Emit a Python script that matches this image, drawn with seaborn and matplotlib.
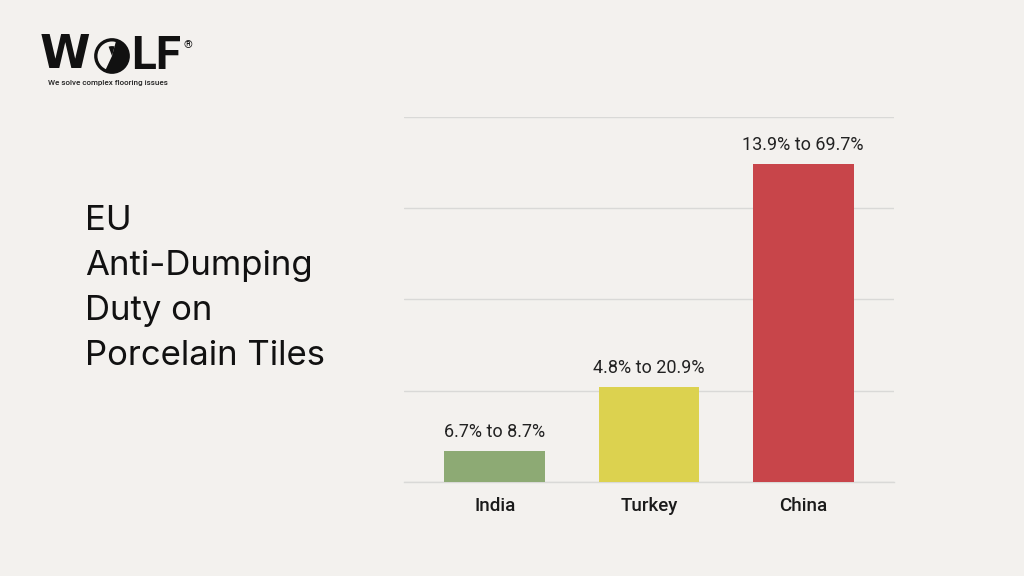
import matplotlib
matplotlib.use("Agg")
import matplotlib.pyplot as plt
import seaborn as sns
import pandas as pd
from matplotlib.patches import Circle, Wedge

# ==========================================
# DATA
# ==========================================
countries = ["India", "Turkey", "China"]
duty_low = [6.7, 4.8, 13.9]
duty_high = [8.7, 20.9, 69.7]
bar_height = [6.7, 20.9, 69.7]   # height of the drawn bars
bar_colors = ["#8daa74", "#dcd24f", "#c8454a"]
y_ticks = [0, 20, 40, 60, 80]

title_lines = ["EU", "Anti-Dumping", "Duty on", "Porcelain Tiles"]

BG = "#f3f1ee"
W, H = 1024, 576

df = pd.DataFrame({"country": countries, "height": bar_height})
labels = [f"{lo}% to {hi}%" for lo, hi in zip(duty_low, duty_high)]

sns.set_theme(style="white")
plt.rcParams["font.family"] = ["Roboto", "DejaVu Sans"]

fig = plt.figure(figsize=(W / 100, H / 100), dpi=100, facecolor=BG)

# axes placed to match the reference pixel box
ax = fig.add_axes([404 / W, 1 - 481.7 / H, (894 - 404) / W, (481.7 - 117.3) / H])
ax.set_facecolor("none")

sns.barplot(data=df, x="country", y="height", hue="country",
            palette=bar_colors, legend=False, width=0.655,
            saturation=1, linewidth=0, ax=ax)

for cont, lab in zip(ax.containers, labels):
    ax.bar_label(cont, labels=[lab], padding=7, fontsize=13, color="#222222")

ax.set_ylim(0, 80)
ax.set_xlim(-0.59, 2.59)
ax.set_yticks(y_ticks)
ax.set_yticklabels([])
ax.yaxis.grid(True, color="#d9d9d7", linewidth=1)
ax.set_axisbelow(True)
ax.tick_params(axis="y", length=0)
ax.tick_params(axis="x", length=0, pad=11, labelsize=13.5, labelcolor="#1a1a1a")
for t in ax.get_xticklabels():
    t.set_fontweight("medium")
ax.set_xlabel("")
ax.set_ylabel("")
for s in ax.spines.values():
    s.set_visible(False)
ax.spines["bottom"].set_visible(True)
ax.spines["bottom"].set_color("#d9d9d7")
ax.spines["bottom"].set_linewidth(1)
ax.spines["bottom"].set_zorder(0)

# left title block
y0 = 221
for i, line in enumerate(title_lines):
    fig.text(85 / W, 1 - (y0 + i * 45) / H, line, fontsize=25,
             family=["Inter", "DejaVu Sans"], color="#111111",
             va="center", ha="left")

# logo: W + wolf circle + LF
fig.text(40 / W, 1 - 56 / H, "W", fontsize=33, fontweight="bold",
         family=["DejaVu Sans"], color="#111111", va="center", ha="left")
fig.text(131 / W, 1 - 56 / H, "LF", fontsize=33, fontweight="bold",
         family=["Roboto", "DejaVu Sans"], color="#111111", va="center", ha="left")
fig.text(183 / W, 1 - 45 / H, "®", fontsize=8, color="#111111", va="center", ha="left")
logo = fig.add_axes([94 / W, 1 - 74 / H, 36 / W, 36 / H])
logo.set_xlim(-1, 1)
logo.set_ylim(-1, 1)
logo.set_aspect("equal")
logo.axis("off")
logo.add_patch(Wedge((0, 0), 0.9, -115, 75, facecolor="#111111", edgecolor="none"))
logo.add_patch(Wedge((0, 0), 0.55, 75, 110, facecolor="#111111", edgecolor="none"))
logo.add_patch(Circle((0, 0), 0.9, facecolor="none", edgecolor="#111111", lw=2.4))
fig.text(48 / W, 1 - 83 / H, "We solve complex flooring issues", fontsize=5.8,
         fontweight="medium", color="#222222", va="center", ha="left")

fig.savefig("out.png", dpi=100, facecolor=BG)
